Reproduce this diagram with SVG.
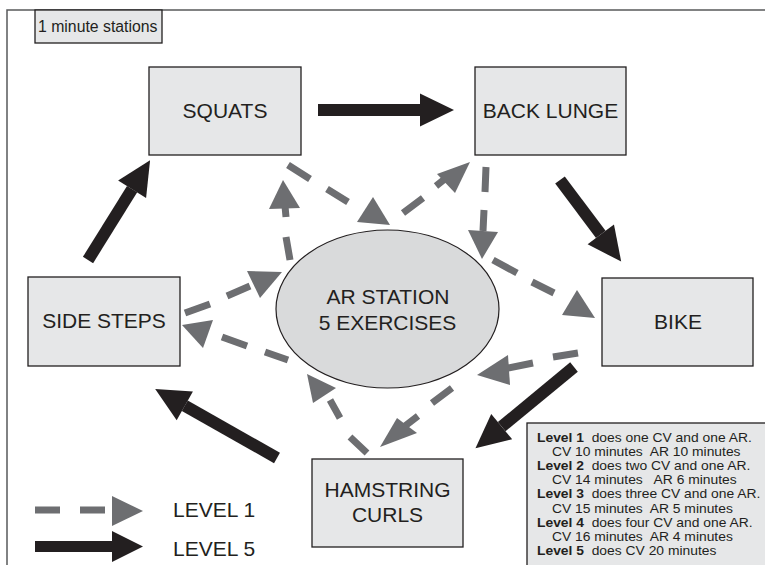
<svg xmlns="http://www.w3.org/2000/svg" width="765" height="565" viewBox="0 0 765 565">
  <defs>
    <!-- solid level-5 arrowhead: base sits at the end of the shaft -->
    <marker id="head5" markerUnits="userSpaceOnUse" markerWidth="34" markerHeight="34" viewBox="0 -16 32 32" refX="0" refY="0" orient="auto" overflow="visible">
      <path d="M0,-15.5 L32,0 L0,15.5 Z" fill="#231f20"/>
    </marker>
  </defs>
  <style>
    .frame { stroke: #58595b; stroke-width: 1.5; fill: none; }
    .box { fill: #e6e7e8; stroke: #231f20; stroke-width: 1.3; }
    .hub { fill: #d9dadb; stroke: #231f20; stroke-width: 1.2; }
    .lbl { font-family: "Liberation Sans", Arial, sans-serif; font-size: 21px; fill: #231f20; text-anchor: middle; }
    .key { font-family: "Liberation Sans", Arial, sans-serif; font-size: 21px; fill: #231f20; }
    .note { font-family: "Liberation Sans", Arial, sans-serif; font-size: 12.6px; fill: #231f20; white-space: pre; }
    .note .b { font-weight: bold; }
    .l5 { stroke: #231f20; stroke-width: 12; fill: none; marker-end: url(#head5); }
    .l1 path { stroke: #6d6e71; stroke-width: 7; fill: none; }
    .l1 polygon { fill: #6d6e71; }
  </style>

  <!-- page frame -->
  <path class="frame" d="M7,565 L7,10 L765,10"/>

  <!-- title tag -->
  <g id="title">
    <rect class="box" x="35" y="10" width="127" height="33"/>
    <text x="38" y="32" style="font-family:'Liberation Sans',Arial,sans-serif;font-size:15.8px;fill:#231f20">1 minute stations</text>
  </g>

  <!-- stations -->
  <g id="squats">
    <rect class="box" x="149" y="67" width="152" height="88"/>
    <text class="lbl" x="225" y="118">SQUATS</text>
  </g>
  <g id="back-lunge">
    <rect class="box" x="475" y="67" width="151" height="88"/>
    <text class="lbl" x="550.5" y="118">BACK LUNGE</text>
  </g>
  <g id="bike">
    <rect class="box" x="602" y="278" width="151" height="88"/>
    <text class="lbl" x="678" y="329">BIKE</text>
  </g>
  <g id="side-steps">
    <rect class="box" x="28" y="277" width="152" height="89"/>
    <text class="lbl" x="104" y="328">SIDE STEPS</text>
  </g>
  <g id="hamstring-curls">
    <rect class="box" x="312" y="459" width="151" height="88"/>
    <text class="lbl" x="387.5" y="497">HAMSTRING</text>
    <text class="lbl" x="387.5" y="522">CURLS</text>
  </g>
  <g id="ar-station">
    <ellipse class="hub" cx="387.5" cy="309" rx="111.5" ry="79"/>
    <text class="lbl" x="388" y="304">AR STATION</text>
    <text class="lbl" x="387.5" y="330">5 EXERCISES</text>
  </g>

  <!-- connectors -->
  <g id="connectors">
    <!-- level 5: the outer circuit -->
    <line class="l5" x1="318" y1="110" x2="420" y2="110"/>
    <line class="l5" x1="560" y1="180" x2="600.8" y2="234.4"/>
    <line class="l5" x1="574" y1="367" x2="501.7" y2="426.6"/>
    <line class="l5" x1="277" y1="458" x2="184.8" y2="405.8"/>
    <line class="l5" x1="88" y1="260" x2="132.1" y2="189.2"/>

    <!-- level 1: to and from the AR station -->
    <g class="l1">
      <path d="M288,165 L310,179 M327,189 L348,202"/>
      <polygon points="357,222 390,225 373,197"/>
    </g>
    <g class="l1">
      <path d="M290,260 L286,237 M286,217 L285,206"/>
      <polygon points="269,209 300,208 283,180"/>
    </g>
    <g class="l1">
      <path d="M403,213 L423,198 M436,186 L446,178"/>
      <polygon points="437,174 470,162 455,193"/>
    </g>
    <g class="l1">
      <path d="M486,167 L485,192 M484,210 L483,231"/>
      <polygon points="468,230 498,232 482,259"/>
    </g>
    <g class="l1">
      <path d="M493,260 L517,273 M532,282 L554,293"/>
      <polygon points="562,315 595,318 577,290"/>
    </g>
    <g class="l1">
      <path d="M578,353 L553,357 M533,363 L508,368"/>
      <polygon points="508,355 477,375 510,385"/>
    </g>
    <g class="l1">
      <path d="M452,388 L432,403 M418,416 L405,426"/>
      <polygon points="397,418 417,433 380,447"/>
    </g>
    <g class="l1">
      <path d="M367,453 L350,437 M340,418 L330,400"/>
      <polygon points="307,374 336,388 313,403"/>
    </g>
    <g class="l1">
      <path d="M288,360 L265,352 M247,346 L222,337"/>
      <polygon points="213,320 182,325 203,348"/>
    </g>
    <g class="l1">
      <path d="M185,313 L210,304 M227,296 L250,286"/>
      <polygon points="247,271 282,272 260,298"/>
    </g>
  </g>

  <!-- key -->
  <g id="key">
    <g class="l1">
      <path d="M35,510 L60,510 M80,510 L105,510"/>
      <polygon points="112,496 143,511 112,526"/>
    </g>
    <path d="M35,541 L112,541 L112,531 L143,546.5 L112,562 L112,552 L35,552 Z" fill="#231f20"/>
    <text class="key" x="173" y="517">LEVEL 1</text>
    <text class="key" x="173" y="556">LEVEL 5</text>
  </g>

  <!-- level notes (type set slightly wide to fill the panel) -->
  <g id="levels">
    <rect class="box" x="527" y="423" width="245" height="150"/>
    <g transform="translate(537,0) scale(1.1,1) translate(-537,0)">
      <text class="note" x="537" y="442"><tspan class="b">Level 1</tspan>  does one CV and one AR.</text>
      <text class="note" x="550.6" y="456.1">CV 10 minutes  AR 10 minutes</text>
      <text class="note" x="537" y="470.3"><tspan class="b">Level 2</tspan>  does two CV and one AR.</text>
      <text class="note" x="550.6" y="484.4">CV 14 minutes   AR 6 minutes</text>
      <text class="note" x="537" y="498.5"><tspan class="b">Level 3</tspan>  does three CV and one AR.</text>
      <text class="note" x="550.6" y="512.6">CV 15 minutes  AR 5 minutes</text>
      <text class="note" x="537" y="526.8"><tspan class="b">Level 4</tspan>  does four CV and one AR.</text>
      <text class="note" x="550.6" y="540.9">CV 16 minutes  AR 4 minutes</text>
      <text class="note" x="537" y="555"><tspan class="b">Level 5</tspan>  does CV 20 minutes</text>
    </g>
  </g>
</svg>
